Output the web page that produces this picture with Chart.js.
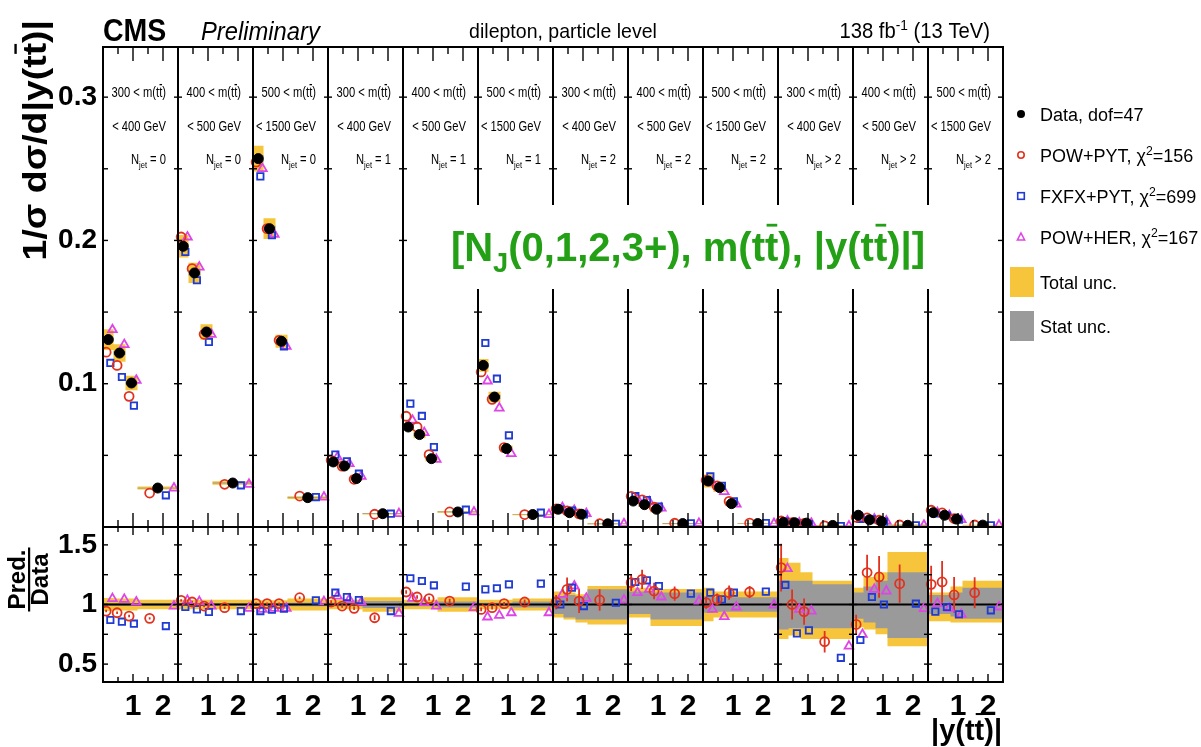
<!DOCTYPE html>
<html>
<head>
<meta charset="utf-8">
<script src="https://cdn.jsdelivr.net/npm/chart.js@4.4.1/dist/chart.umd.min.js"></script>
<style>
  html, body { margin: 0; padding: 0; background: #fff; }
  #grafico { display: block; width: 1201px; height: 747px; }
</style>
</head>
<body>
<canvas id="grafico" width="1201" height="747"></canvas>
<script>
// Bins de |y(tt)| dentro de cada painel
const binEdges = [0, 0.35, 0.75, 1.15, 2.5];
const larguraPainel = 2.5;
const faixasMassa = [['300', '400'], ['400', '500'], ['500', '1500']];
const njets = ['= 0', '= 1', '= 2', '> 2'];
const ticksX = [1, 2];
const ticksY = [0.1, 0.2, 0.3];
const ticksRazao = [0.5, 1, 1.5];

// 1/sigma dsigma/d|y| por painel (12 paineis x 4 bins)
const dados = [
  [0.1308, 0.1214, 0.1005, 0.0272], [0.1959, 0.1773, 0.1361, 0.0307], [0.2571, 0.2082, 0.1296, 0.0205],
  [0.0454, 0.0426, 0.0338, 0.0093], [0.0698, 0.0645, 0.0477, 0.0105], [0.1128, 0.0907, 0.0547, 0.0087],
  [0.0124, 0.0100, 0.0089, 0.0022], [0.0181, 0.0156, 0.0124, 0.0024], [0.0321, 0.0275, 0.0163, 0.0024],
  [0.0032, 0.0030, 0.0027, 0.0011], [0.0082, 0.0050, 0.0038, 0.0012], [0.0100, 0.0082, 0.0055, 0.0013]
];
const powPyt = [
  [0.1220, 0.1128, 0.0912, 0.0237], [0.2024, 0.1803, 0.1345, 0.0298], [0.2547, 0.2082, 0.1303, 0.0216],
  [0.0465, 0.0425, 0.0333, 0.0089], [0.0773, 0.0698, 0.0505, 0.0105], [0.1082, 0.0891, 0.0554, 0.0087],
  [0.0127, 0.0113, 0.0092, 0.0023], [0.0214, 0.0189, 0.0138, 0.0026], [0.0326, 0.0287, 0.0179, 0.0027],
  [0.0042, 0.0030, 0.0025, 0.0008], [0.0068, 0.0063, 0.0047, 0.0014], [0.0117, 0.0098, 0.0059, 0.0014]
];
const fxfxPyt = [
  [0.1145, 0.1047, 0.0847, 0.0221], [0.1919, 0.1722, 0.1291, 0.0291], [0.2447, 0.2036, 0.1261, 0.0209],
  [0.0505, 0.0458, 0.0372, 0.0093], [0.0861, 0.0775, 0.0558, 0.0121], [0.1284, 0.1035, 0.0640, 0.0100],
  [0.0124, 0.0114, 0.0088, 0.0022], [0.0215, 0.0188, 0.0143, 0.0026], [0.0353, 0.0287, 0.0179, 0.0027],
  [0.0037, 0.0023, 0.0021, 0.0006], [0.0057, 0.0053, 0.0038, 0.0012], [0.0094, 0.0080, 0.0051, 0.0012]
];
const powHer = [
  [0.1377, 0.1273, 0.1024, 0.0272], [0.2024, 0.1814, 0.1345, 0.0298], [0.2501, 0.2043, 0.1261, 0.0209],
  [0.0488, 0.0442, 0.0354, 0.0093], [0.0745, 0.0659, 0.0472, 0.0105], [0.1019, 0.0830, 0.0512, 0.0087],
  [0.0135, 0.0116, 0.0094, 0.0023], [0.0199, 0.0176, 0.0132, 0.0025], [0.0308, 0.0247, 0.0160, 0.0024],
  [0.0042, 0.0029, 0.0026, 0.0007], [0.0062, 0.0056, 0.0042, 0.0012], [0.0100, 0.0080, 0.0051, 0.0013]
];

// Razao Pred./Data (painel de baixo)
const razaoPowPyt = [
  [0.945, 0.931, 0.903, 0.884], [1.035, 1.021, 0.987, 0.973], [1.007, 1.007, 1.007, 1.057],
  [1.021, 0.987, 0.968, 0.889], [1.105, 1.063, 1.049, 1.029], [0.959, 0.973, 1.007, 1.021],
  [1.020, 1.127, 1.029, 1.038], [1.183, 1.211, 1.113, 1.091], [1.015, 1.043, 1.099, 1.105],
  [1.310, 1.000, 0.940, 0.688], [0.833, 1.268, 1.231, 1.175], [1.169, 1.189, 1.080, 1.099]
];
const razaoFxfx = [
  [0.870, 0.856, 0.839, 0.819], [0.979, 0.959, 0.937, 0.945], [0.945, 0.957, 0.965, 1.035],
  [1.099, 1.063, 1.038, 0.945], [1.220, 1.197, 1.161, 1.150], [1.127, 1.136, 1.169, 1.175],
  [1.000, 1.141, 0.987, 1.015], [1.189, 1.203, 1.155, 1.091], [1.099, 1.043, 1.099, 1.108],
  [1.164, 0.758, 0.783, 0.553], [0.702, 1.063, 1.000, 1.007], [0.940, 0.979, 0.917, 0.951]
];
const razaoPowHer = [
  [1.049, 1.043, 1.021, 0.987], [1.035, 1.024, 0.987, 0.968], [0.959, 0.968, 0.968, 1.024],
  [1.071, 1.043, 1.021, 0.926], [1.052, 1.015, 0.987, 0.973], [0.895, 0.909, 0.931, 0.931],
  [1.085, 1.155, 1.052, 1.038], [1.099, 1.127, 1.063, 1.029], [0.959, 0.898, 0.979, 0.996],
  [1.301, 0.959, 0.945, 0.651], [0.749, 1.127, 1.113, 0.965], [1.007, 0.968, 0.917, 0.979]
];
// Erro estatistico do POW+PYT na razao
const erroPowPyt = [
  [0.01, 0.01, 0.01, 0.01], [0.01, 0.01, 0.01, 0.01], [0.01, 0.01, 0.01, 0.01],
  [0.015, 0.015, 0.015, 0.02], [0.015, 0.015, 0.015, 0.02], [0.015, 0.015, 0.015, 0.02],
  [0.06, 0.10, 0.10, 0.09], [0.07, 0.08, 0.07, 0.06], [0.05, 0.05, 0.06, 0.05],
  [0.20, 0.125, 0.11, 0.09], [0.08, 0.15, 0.175, 0.16], [0.155, 0.175, 0.15, 0.13]
];

// Incertezas relativas (total e estatistica), para cima e para baixo
const incTotSup = [
  [0.055, 0.05, 0.05, 0.04], [0.04, 0.04, 0.04, 0.04], [0.035, 0.035, 0.035, 0.05],
  [0.04, 0.04, 0.04, 0.06], [0.04, 0.04, 0.04, 0.06], [0.04, 0.04, 0.04, 0.05],
  [0.11, 0.10, 0.085, 0.155], [0.14, 0.14, 0.13, 0.13], [0.14, 0.11, 0.11, 0.11],
  [0.39, 0.35, 0.27, 0.20], [0.14, 0.23, 0.27, 0.44], [0.10, 0.10, 0.15, 0.20]
];
const incTotInf = [
  [0.055, 0.05, 0.05, 0.04], [0.04, 0.04, 0.04, 0.04], [0.035, 0.035, 0.035, 0.05],
  [0.04, 0.04, 0.04, 0.06], [0.04, 0.04, 0.04, 0.06], [0.04, 0.04, 0.04, 0.05],
  [0.11, 0.125, 0.15, 0.167], [0.11, 0.11, 0.18, 0.18], [0.14, 0.11, 0.11, 0.11],
  [0.29, 0.26, 0.29, 0.29], [0.19, 0.21, 0.25, 0.35], [0.14, 0.14, 0.15, 0.15]
];
const incEstSup = [
  [0.01, 0.01, 0.01, 0.01], [0.01, 0.01, 0.01, 0.01], [0.01, 0.01, 0.01, 0.015],
  [0.015, 0.015, 0.015, 0.03], [0.015, 0.015, 0.015, 0.025], [0.015, 0.015, 0.015, 0.025],
  [0.07, 0.08, 0.07, 0.127], [0.11, 0.11, 0.10, 0.10], [0.07, 0.06, 0.06, 0.06],
  [0.20, 0.20, 0.20, 0.17], [0.10, 0.15, 0.20, 0.27], [0.08, 0.08, 0.10, 0.14]
];
const incEstInf = [
  [0.01, 0.01, 0.01, 0.01], [0.01, 0.01, 0.01, 0.01], [0.01, 0.01, 0.01, 0.015],
  [0.015, 0.015, 0.015, 0.03], [0.015, 0.015, 0.015, 0.025], [0.015, 0.015, 0.015, 0.025],
  [0.08, 0.11, 0.125, 0.125], [0.08, 0.08, 0.125, 0.125], [0.07, 0.06, 0.06, 0.06],
  [0.21, 0.20, 0.20, 0.20], [0.12, 0.15, 0.20, 0.28], [0.08, 0.08, 0.10, 0.12]
];

// Cores
const amarelo = '#f7c53b';
const cinza = '#9a9a9a';
const vermelho = '#e2321e';
const azul = '#1f3bd3';
const magenta = '#dd45e6';
const verde = '#23a015';
const familia = '"Liberation Sans", Arial, Helvetica, sans-serif';

// Monta pontos (x global = painel * 2.5 + centro do bin + deslocamento)
function centro(p, i) { return p * larguraPainel + (binEdges[i] + binEdges[i + 1]) / 2; }
function largura(i) { return binEdges[i + 1] - binEdges[i]; }
function pontos(valores, desloc) {
  const pts = [];
  valores.forEach((painel, p) => painel.forEach((v, i) => {
    pts.push({ x: centro(p, i) + desloc * largura(i), y: v });
  }));
  return pts;
}
function degraus(fn) {
  const pts = [];
  for (let p = 0; p < 12; p++) {
    const base = p * larguraPainel;
    for (let i = 0; i < 4; i++) pts.push({ x: base + binEdges[i], y: fn(p, i) });
    pts.push({ x: base + binEdges[4] - 0.002, y: fn(p, 3) });
    pts.push({ x: base + binEdges[4] - 0.001, y: null });
  }
  return pts;
}
function barrasErro(razao, erro, desloc) {
  const pts = [];
  razao.forEach((painel, p) => painel.forEach((r, i) => {
    const x = centro(p, i) + desloc * largura(i);
    pts.push({ x: x, y: r - erro[p][i] }, { x: x, y: r + erro[p][i] }, { x: x + 0.0005, y: null });
  }));
  return pts;
}

function faixa(dadosPts, eixo, cor, ordem) {
  return [
    { type: 'line', data: dadosPts[0], yAxisID: eixo, stepped: true, showLine: true, borderWidth: 0,
      pointRadius: 0, fill: false, order: ordem, borderColor: 'rgba(0,0,0,0)' },
    { type: 'line', data: dadosPts[1], yAxisID: eixo, stepped: true, showLine: true, borderWidth: 0,
      pointRadius: 0, fill: '-1', backgroundColor: cor, order: ordem, borderColor: 'rgba(0,0,0,0)' }
  ];
}

function marcador(data, eixo, estilo, cor, raio, ordem, cheio) {
  return {
    type: 'line', data: data, yAxisID: eixo, showLine: false, pointStyle: estilo,
    pointRadius: raio, pointBorderColor: cor, pointBackgroundColor: cheio ? cor : 'rgba(0,0,0,0)',
    pointBorderWidth: cheio ? 1 : 1.8, order: ordem
  };
}

const datasets = [
  ...faixa([degraus((p, i) => dados[p][i] * (1 + incTotSup[p][i])), degraus((p, i) => dados[p][i] * (1 - incTotInf[p][i]))], 'y', amarelo, 20),
  ...faixa([degraus((p, i) => dados[p][i] * (1 + incEstSup[p][i])), degraus((p, i) => dados[p][i] * (1 - incEstInf[p][i]))], 'y', cinza, 19),
  ...faixa([degraus((p, i) => 1 + incTotSup[p][i]), degraus((p, i) => 1 - incTotInf[p][i])], 'yr', amarelo, 20),
  ...faixa([degraus((p, i) => 1 + incEstSup[p][i]), degraus((p, i) => 1 - incEstInf[p][i])], 'yr', cinza, 19),
  { type: 'line', data: [{ x: 0, y: 1 }, { x: 12 * larguraPainel, y: 1 }], yAxisID: 'yr', showLine: true,
    borderColor: '#000', borderWidth: 2, pointRadius: 0, fill: false, order: 18 },
  { type: 'line', data: barrasErro(razaoPowPyt, erroPowPyt, -0.2), yAxisID: 'yr', showLine: true,
    borderColor: vermelho, borderWidth: 1.8, pointRadius: 0, fill: false, spanGaps: false, order: 17 },
  marcador(pontos(powHer, 0.4), 'y', 'triangle', magenta, 5, 16, false),
  marcador(pontos(fxfxPyt, 0.2), 'y', 'rect', azul, 4.5, 15, false),
  marcador(pontos(powPyt, -0.2), 'y', 'circle', vermelho, 4.5, 14, false),
  marcador(pontos(dados, 0), 'y', 'circle', '#000', 5, 13, true),
  marcador(pontos(razaoPowHer, 0.4), 'yr', 'triangle', magenta, 5, 16, false),
  marcador(pontos(razaoFxfx, 0.2), 'yr', 'rect', azul, 4.5, 15, false),
  marcador(pontos(razaoPowPyt, -0.2), 'yr', 'circle', vermelho, 4.5, 14, false)
];

// Texto com subscrito, sobrescrito e barra (tt-barra)
function textoRico(ctx, partes, x, y, o) {
  const tam = o.tam, peso = o.peso || 'normal', estilo = o.estilo || 'normal';
  const esc = o.esc || 1, alinhar = o.alinhar || 'left';
  const fonte = s => `${estilo} ${peso} ${s}px ${familia}`;
  const itens = partes.map(pt => {
    const it = typeof pt === 'string' ? { t: pt } : pt;
    const s = (it.sub || it.sup) ? tam * 0.68 : tam;
    ctx.font = fonte(s);
    return Object.assign({}, it, { s: s, w: ctx.measureText(it.t).width });
  });
  const total = itens.reduce((a, b) => a + b.w, 0);
  ctx.save();
  ctx.translate(x, y);
  ctx.scale(esc, 1);
  let cx = alinhar === 'right' ? -total : alinhar === 'center' ? -total / 2 : 0;
  ctx.textAlign = 'left';
  ctx.textBaseline = 'alphabetic';
  for (const it of itens) {
    ctx.font = fonte(it.s);
    const dy = it.sub ? tam * 0.28 : it.sup ? -tam * 0.38 : 0;
    ctx.fillText(it.t, cx, dy);
    if (it.barra) ctx.fillRect(cx + it.w * 0.12, -tam * 0.93, it.w * 0.8, Math.max(1.3, tam * 0.07));
    cx += it.w;
  }
  ctx.restore();
  return total * esc;
}

function linha(ctx, x1, y1, x2, y2) {
  ctx.beginPath(); ctx.moveTo(x1, y1); ctx.lineTo(x2, y2); ctx.stroke();
}

function desenhaMarcador(ctx, tipo, x, y) {
  ctx.save();
  ctx.lineWidth = 1.6;
  if (tipo === 'dado') { ctx.fillStyle = '#000'; ctx.beginPath(); ctx.arc(x, y, 4, 0, 2 * Math.PI); ctx.fill(); }
  if (tipo === 'circ') { ctx.strokeStyle = vermelho; ctx.beginPath(); ctx.arc(x, y, 3.2, 0, 2 * Math.PI); ctx.stroke(); }
  if (tipo === 'quad') { ctx.strokeStyle = azul; ctx.strokeRect(x - 3.3, y - 3.3, 6.6, 6.6); }
  if (tipo === 'tri') {
    ctx.strokeStyle = magenta; ctx.beginPath();
    ctx.moveTo(x, y - 4); ctx.lineTo(x + 3.6, y + 3); ctx.lineTo(x - 3.6, y + 3); ctx.closePath(); ctx.stroke();
  }
  ctx.restore();
}

const pluginMoldura = {
  id: 'moldura',
  afterDatasetsDraw(chart) {
    const ctx = chart.ctx;
    const xs = chart.scales.x, yt = chart.scales.y, yr = chart.scales.yr;
    ctx.save();
    ctx.strokeStyle = '#000';
    ctx.fillStyle = '#000';

    // separadores dos paineis
    ctx.lineWidth = 2;
    for (let p = 1; p < 12; p++) {
      const x = xs.getPixelForValue(p * larguraPainel);
      linha(ctx, x, yt.top, x, yr.bottom);
    }
    // marcas em y em cada separador
    ctx.lineWidth = 1.4;
    const marcasY = (eixo, vals) => {
      for (let p = 0; p <= 12; p++) {
        const x = xs.getPixelForValue(p * larguraPainel);
        vals.forEach(v => {
          const y = eixo.getPixelForValue(v);
          linha(ctx, p === 12 ? x : x - (p === 0 ? 0 : 4), y, p === 0 ? x + 5 : x + (p === 12 ? -5 : 4), y);
        });
      }
    };
    marcasY(yt, [0.05, 0.1, 0.15, 0.2, 0.25, 0.3]);
    marcasY(yr, [0.5, 0.75, 1, 1.25, 1.5]);
    // marcas em x
    const marcasX = (yBase, dir, longo, curto) => {
      for (let p = 0; p < 12; p++) {
        [0.5, 1, 1.5, 2].forEach(v => {
          const x = xs.getPixelForValue(p * larguraPainel + v);
          linha(ctx, x, yBase, x, yBase + dir * (v % 1 === 0 ? longo : curto));
        });
      }
    };
    marcasX(yt.top, 1, 14, 7);
    marcasX(yt.bottom, -1, 14, 7);
    marcasX(yr.top, 1, 8, 5);
    marcasX(yr.bottom, -1, 8, 5);

    // molduras
    ctx.lineWidth = 2;
    ctx.strokeRect(xs.left, yt.top, xs.right - xs.left, yt.bottom - yt.top);
    ctx.strokeRect(xs.left, yr.top, xs.right - xs.left, yr.bottom - yr.top);

    // rotulos de cada painel
    for (let p = 0; p < 12; p++) {
      const xd = xs.getPixelForValue((p + 1) * larguraPainel) - 12;
      const m = faixasMassa[p % 3];
      const o = { tam: 14, esc: 0.8, alinhar: 'right' };
      textoRico(ctx, [m[0] + ' < m(t', { t: 't', barra: true }, ')'], xd, yt.top + 50, o);
      textoRico(ctx, ['< ' + m[1] + ' GeV'], xd, yt.top + 84, o);
      textoRico(ctx, ['N', { t: 'jet', sub: true }, ' ' + njets[Math.floor(p / 3)]], xd, yt.top + 117, o);
    }

    // caixa e texto verde
    ctx.fillStyle = '#fff';
    ctx.fillRect(445, 205, 492, 84);
    ctx.fillStyle = verde;
    textoRico(ctx, ['[N', { t: 'J', sub: true }, '(0,1,2,3+), m(t', { t: 't', barra: true }, '), |y(t', { t: 't', barra: true }, ')|]'],
      688, 261, { tam: 40, peso: 'bold', alinhar: 'center', esc: 1 });
    ctx.restore();
  },
  afterDraw(chart) {
    const ctx = chart.ctx;
    const yr = chart.scales.yr;
    ctx.save();
    ctx.fillStyle = '#000';
    // cabecalho
    textoRico(ctx, ['CMS'], 103, 41, { tam: 31, peso: 'bold', esc: 0.92 });
    textoRico(ctx, ['Preliminary'], 201, 40, { tam: 25, estilo: 'italic', esc: 0.95 });
    textoRico(ctx, ['dilepton, particle level'], 563, 38, { tam: 21, alinhar: 'center', esc: 0.93 });
    textoRico(ctx, ['138 fb', { t: '-1', sup: true }, ' (13 TeV)'], 990, 38, { tam: 22, alinhar: 'right', esc: 0.92 });

    // titulo do eixo y (topo)
    ctx.save();
    ctx.translate(46, 20);
    ctx.rotate(-Math.PI / 2);
    textoRico(ctx, ['1/σ dσ/d|y(t', { t: 't', barra: true }, ')|'], 0, 0, { tam: 34, peso: 'bold', alinhar: 'right', esc: 1.1 });
    ctx.restore();

    // titulo do eixo da razao
    ctx.save();
    ctx.translate(29, yr.getPixelForValue(1) - 25);
    ctx.rotate(-Math.PI / 2);
    const wP = textoRico(ctx, ['Pred.'], 0, -4, { tam: 24, peso: 'bold', alinhar: 'center' });
    textoRico(ctx, ['Data'], 0, 19, { tam: 24, peso: 'bold', alinhar: 'center' });
    ctx.fillRect(-wP / 2 - 2, -1, wP + 4, 2.2);
    ctx.restore();

    // titulo do eixo x
    textoRico(ctx, ['|y(t', { t: 't', barra: true }, ')|'], 1002, 740, { tam: 29, peso: 'bold', alinhar: 'right' });

    // legenda
    const itens = [
      ['dado', ['Data, dof=47'], 114],
      ['circ', ['POW+PYT, χ', { t: '2', sup: true }, '=156'], 155],
      ['quad', ['FXFX+PYT, χ', { t: '2', sup: true }, '=699'], 196],
      ['tri', ['POW+HER, χ', { t: '2', sup: true }, '=167'], 237]
    ];
    itens.forEach(([tipo, partes, y]) => {
      desenhaMarcador(ctx, tipo, 1021, y);
      ctx.fillStyle = '#000';
      textoRico(ctx, partes, 1040, y + 6.5, { tam: 18 });
    });
    ctx.fillStyle = amarelo;
    ctx.fillRect(1010, 267, 24, 30);
    ctx.fillStyle = cinza;
    ctx.fillRect(1010, 311, 24, 30);
    ctx.fillStyle = '#000';
    textoRico(ctx, ['Total unc.'], 1040, 288.5, { tam: 18 });
    textoRico(ctx, ['Stat unc.'], 1040, 332.5, { tam: 18 });
    ctx.restore();
  }
};

const fonteTicks = { family: familia, size: 28, weight: 'bold' };

const config = {
  type: 'line',
  data: { datasets: datasets },
  options: {
    responsive: false,
    animation: false,
    events: [],
    layout: { padding: { left: 0, right: 198, top: 47, bottom: 0 } },
    plugins: { legend: { display: false }, tooltip: { enabled: false } },
    scales: {
      x: {
        type: 'linear', min: 0, max: 12 * larguraPainel,
        grid: { display: false, drawTicks: false }, border: { display: false },
        afterBuildTicks: s => {
          const t = [];
          for (let p = 0; p < 12; p++) ticksX.forEach(v => t.push({ value: p * larguraPainel + v }));
          s.ticks = t;
        },
        afterFit: s => { s.height = 65; },
        ticks: {
          autoSkip: false, maxRotation: 0, padding: 7, color: '#000', font: { family: familia, size: 30, weight: 'bold' },
          callback: v => String(Math.round(v - Math.floor((v + 1e-6) / larguraPainel) * larguraPainel))
        }
      },
      yr: {
        type: 'linear', position: 'left', stack: 'pads', stackWeight: 155, min: 0.35, max: 1.65,
        grid: { display: false, drawTicks: false }, border: { display: false },
        afterBuildTicks: s => { s.ticks = ticksRazao.map(v => ({ value: v })); },
        afterFit: s => { s.width = 103; },
        ticks: { padding: 6, color: '#000', font: fonteTicks,
          callback: v => (v === 1 ? '1' : String(v)) }
      },
      y: {
        type: 'linear', position: 'left', stack: 'pads', stackWeight: 480, min: 0, max: 0.335,
        grid: { display: false, drawTicks: false }, border: { display: false },
        afterBuildTicks: s => { s.ticks = ticksY.map(v => ({ value: v })); },
        afterFit: s => { s.width = 103; },
        ticks: { padding: 6, color: '#000', font: fonteTicks, callback: v => v.toFixed(1) }
      }
    }
  },
  plugins: [pluginMoldura]
};

// Renderizando o grafico
const grafico = new Chart(document.getElementById('grafico').getContext('2d'), config);
</script>
</body>
</html>
